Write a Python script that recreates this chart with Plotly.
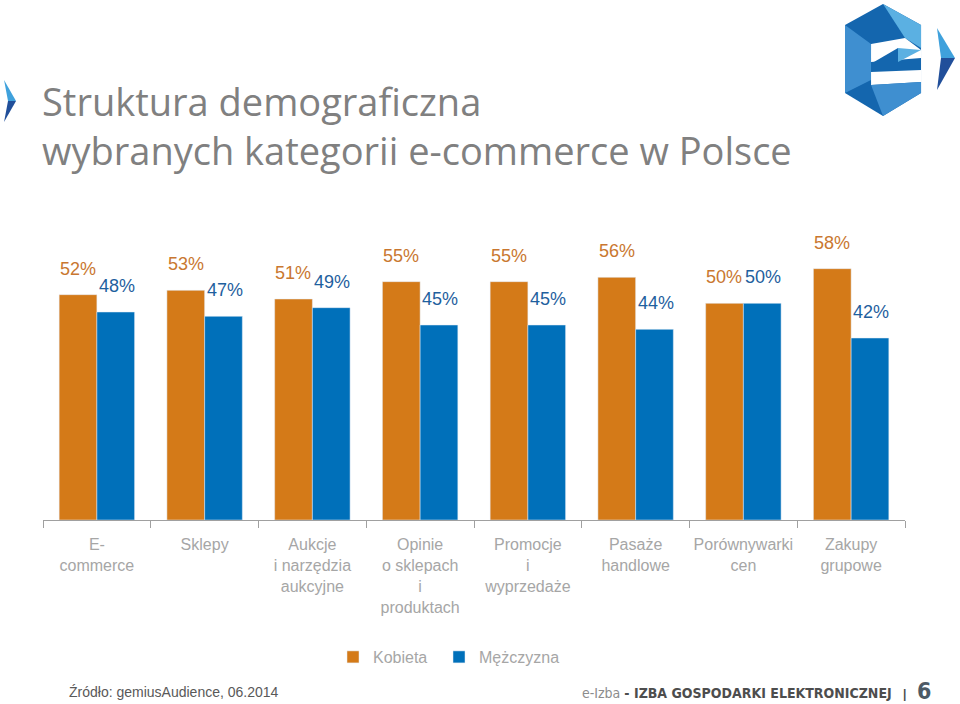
import plotly.graph_objects as go

categories = [
    "E-<br>commerce",
    "Sklepy",
    "Aukcje<br>i narzędzia<br>aukcyjne",
    "Opinie<br>o sklepach<br>i<br>produktach",
    "Promocje<br>i<br>wyprzedaże",
    "Pasaże<br>handlowe",
    "Porównywarki<br>cen",
    "Zakupy<br>grupowe",
]
kobieta = [52, 53, 51, 55, 55, 56, 50, 58]
mezczyzna = [48, 47, 49, 45, 45, 44, 50, 42]

ORANGE = "#D47A18"
BLUE = "#0070BA"
GRAY = "#A6A6A6"

# plot area in pixels: x 43..905, y 260..520
L, R, T, B = 43, 905, 260, 520


def px(x):
    return (x - L) / (R - L)


def py(y):
    return (B - y) / (B - T)


fig = go.Figure()
fig.add_trace(go.Bar(x=categories, y=kobieta, name="Kobieta", marker_color=ORANGE,
                     legend="legend", showlegend=True))
fig.add_trace(go.Bar(x=categories, y=mezczyzna, name="Mężczyzna", marker_color=BLUE,
                     legend="legend2", showlegend=True))

annotations = []
for cat, k, m in zip(categories, kobieta, mezczyzna):
    annotations.append(dict(x=cat, y=k, text=f"{k}%", showarrow=False, xshift=-19, yshift=26,
                            font=dict(size=18, color="#C97730")))
    annotations.append(dict(x=cat, y=m, text=f"{m}%", showarrow=False, xshift=20, yshift=26,
                            font=dict(size=18, color="#1F5F9E")))

# footer
annotations.append(dict(xref="paper", yref="paper", x=px(67), y=py(692), xanchor="left", yanchor="middle",
                        text="Źródło: gemiusAudience, 06.2014", showarrow=False,
                        font=dict(size=14, color="#595959")))
annotations.append(dict(xref="paper", yref="paper", x=px(894), y=py(693), xanchor="right", yanchor="middle",
                        text="<span style='color:#8C8C8C'>e-Izba</span> <b>- IZBA GOSPODARKI ELEKTRONICZNEJ</b>",
                        showarrow=False, font=dict(size=14, color="#4D4D4D", family="DejaVu Sans Condensed")))
annotations.append(dict(xref="paper", yref="paper", x=px(904), y=py(694), xanchor="center", yanchor="middle",
                        text="<b>|</b>", showarrow=False, font=dict(size=12, color="#4D4D4D")))
annotations.append(dict(xref="paper", yref="paper", x=px(924), y=py(691), xanchor="center", yanchor="middle",
                        text="<b>6</b>", showarrow=False,
                        font=dict(size=23, color="#4D5A66", family="DejaVu Sans Condensed")))


def poly(points, color):
    d = "M " + " L ".join(f"{px(x):.4f},{py(y):.4f}" for x, y in points) + " Z"
    return dict(type="path", xref="paper", yref="paper", path=d, fillcolor=color, line=dict(width=0))


shapes = [
    # logo hexagon
    poly([(883, 4), (921, 25), (921, 93), (883, 116), (845, 93), (845, 25)], "#1466AE"),
    poly([(845, 25), (871, 44), (871, 80), (845, 93)], "#3F8FD0"),
    poly([(883, 4), (921, 25), (921, 48), (905, 38)], "#5BB0E2"),
    poly([(871, 44), (905, 38), (921, 50), (921, 58), (871, 62)], "#FFFFFF"),
    poly([(874, 62), (898, 48), (898, 62)], "#1466AE"),
    poly([(898, 48), (921, 50), (898, 62)], "#5BB0E2"),
    poly([(871, 72), (921, 70), (921, 82), (871, 85)], "#FFFFFF"),
    poly([(871, 85), (921, 82), (921, 93), (883, 116)], "#3F8FD0"),
    # logo arrow
    poly([(937, 28), (955, 58), (941, 58)], "#3FA1DC"),
    poly([(941, 58), (955, 58), (937, 90)], "#214F9A"),
    # left arrow
    poly([(4, 80), (16, 101), (8, 101)], "#3FA1DC"),
    poly([(8, 101), (16, 101), (4, 122)], "#214F9A"),
]

legend_style = dict(orientation="h", xanchor="left", y=py(657), yanchor="middle",
                    font=dict(size=16, color=GRAY), bgcolor="rgba(0,0,0,0)")

fig.update_layout(
    width=960,
    height=704,
    margin=dict(l=L, r=960 - R, t=T, b=704 - B),
    paper_bgcolor="white",
    plot_bgcolor="white",
    font=dict(family="Liberation Sans, Arial", color=GRAY),
    barmode="group",
    bargap=0.3,
    bargroupgap=0,
    title=dict(
        text="Struktura demograficzna<br>wybranych kategorii e-commerce w Polsce",
        x=42 / 960, xanchor="left", xref="container",
        y=1 - 116 / 704, yanchor="top", yref="container",
        font=dict(family="Open Sans", size=38, color="#808080"),
    ),
    legend=dict(x=px(333), **legend_style),
    legend2=dict(x=px(439), **legend_style),
    annotations=annotations,
    shapes=shapes,
    xaxis=dict(
        showline=True, linecolor="#A0A0A0", linewidth=1,
        ticks="outside", tickson="boundaries", ticklen=7, tickcolor="#A0A0A0",
        tickfont=dict(size=16, color=GRAY), tickangle=0, showgrid=False, ticklabelstandoff=10,
    ),
    yaxis=dict(range=[0, 60], visible=False, showgrid=False),
)

fig.write_html("out.html", config={"displayModeBar": False},
               post_script="document.body.style.margin='0px';")
